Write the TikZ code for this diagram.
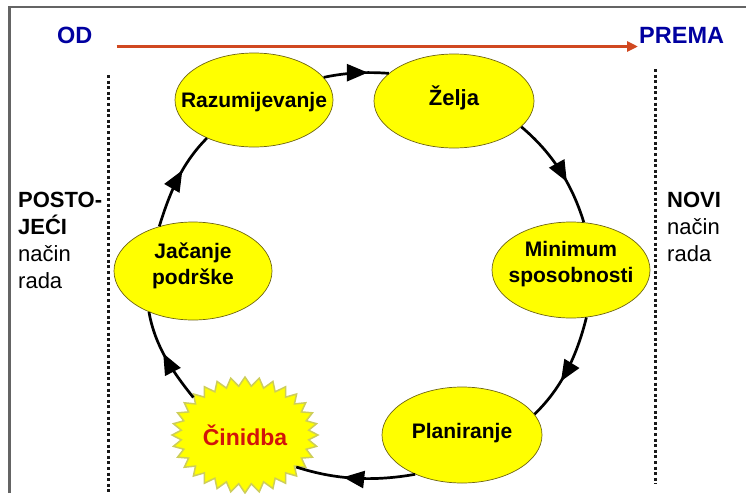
\documentclass[tikz,border=0pt]{standalone}
\usepackage{fontspec}
\setmainfont{Liberation Sans}
\usetikzlibrary{shapes.geometric,shapes.symbols,arrows.meta,decorations.markings}
\definecolor{yel}{RGB}{255,255,0}
\definecolor{olv}{RGB}{110,100,20}
\definecolor{glow}{RGB}{205,205,90}
\definecolor{blu}{RGB}{0,0,160}
\definecolor{redline}{RGB}{208,72,32}
\definecolor{cinred}{RGB}{210,20,10}
\definecolor{framegray}{RGB}{100,100,100}
\begin{document}
\begin{tikzpicture}[x=1pt,y=1pt,
  bubble/.style={ellipse, fill=yel, draw=olv, line width=0.7pt, inner sep=0pt},
  lab/.style={font=\fontsize{21}{26}\selectfont\bfseries, align=center, inner sep=0pt},
  flow/.style={line width=2.7pt, looseness=0.9, postaction={decorate}},
  arrowat/.style={decoration={markings, mark=at position #1 with {\arrow{Triangle[length=21pt,width=17pt]}}}},
  dots/.style={line width=3pt, dash pattern=on 3pt off 2.6pt, black!90},
  toptext/.style={font=\fontsize{23.5}{28}\selectfont\bfseries, text=blu, inner sep=0pt, anchor=base west},
  sidetext/.style={font=\fontsize{22}{27}\selectfont, align=left, inner sep=0pt, anchor=base west}
]
\useasboundingbox (0,0) rectangle (746,-493);
% frame
\draw[framegray, line width=2.3pt] (9.5,-493) -- (9.5,-7) -- (746,-7);
% top texts and arrow
\node[toptext] (od) at (57,-43) {OD};
\node[toptext] (prema) at (639,-43) {PREMA};
\draw[redline, line width=2.8pt, -{Triangle[length=11pt,width=10pt]}]
  ([xshift=24pt,yshift=-3.5pt]od.base east) -- ([xshift=-1pt,yshift=-3.5pt]prema.base west);
% dotted separators
\coordinate (l1) at (108,-75); \coordinate (l2) at (108,-493);
\coordinate (r1) at (655,-69); \coordinate (r2) at (655,-484);
\draw[dots] (l1) -- (l2);
\draw[dots] (r1) -- (r2);
% side texts (base anchor = last line baseline)
\node[sidetext] (old) at (18,-288) {\textbf{POSTO-}\\\textbf{JEĆI}\\način\\rada};
\node[sidetext] (new) at (667,-261) {\textbf{NOVI}\\način\\rada};
% cycle nodes
\node[bubble, minimum width=158pt, minimum height=94pt,
  label={[lab,yshift=-2pt]center:Razumijevanje}] (raz) at (254,-100) {};
\node[bubble, minimum width=160pt, minimum height=94pt,
  label={[lab,font=\fontsize{22}{26}\selectfont\bfseries,yshift=3pt]center:Želja}] (zel) at (454,-101) {};
\node[bubble, minimum width=158pt, minimum height=96pt,
  label={[lab,yshift=6pt]center:Minimum\\sposobnosti}] (minsp) at (571,-270) {};
\node[bubble, minimum width=160pt, minimum height=96pt,
  label={[lab,yshift=2pt]center:Planiranje}] (plan) at (462,-435) {};
\node[starburst, starburst points=32, starburst point height=9pt, random starburst=0,
  minimum width=146pt, minimum height=116pt, fill=yel, draw=glow, line width=1.5pt, inner sep=0pt,
  label={[lab,font=\fontsize{23}{26}\selectfont\bfseries,text=cinred]center:Činidba}] (cin) at (245,-435) {};
\node[bubble, minimum width=158pt, minimum height=98pt,
  label={[lab,yshift=5pt]center:Jačanje\\podrške}] (jac) at (193,-271) {};
% connectors
\draw[flow, arrowat=0.68] (raz.18) to[out=12, in=176] (zel.157);
\draw[flow, arrowat=0.62] (zel.-21) to[out=-40, in=107] (minsp.75);
\draw[flow, arrowat=0.62] (minsp.-72) to[out=-104, in=44] (plan.16);
\draw[flow, arrowat=0.6] (plan.220) to[out=190, in=-18] (cin.-32);
\draw[flow, arrowat=0.55] (cin.144) to[out=129, in=-80] (jac.223);
\draw[flow, arrowat=0.6] (jac.127) to[out=73, in=225] (raz.219);
\end{tikzpicture}
\end{document}
